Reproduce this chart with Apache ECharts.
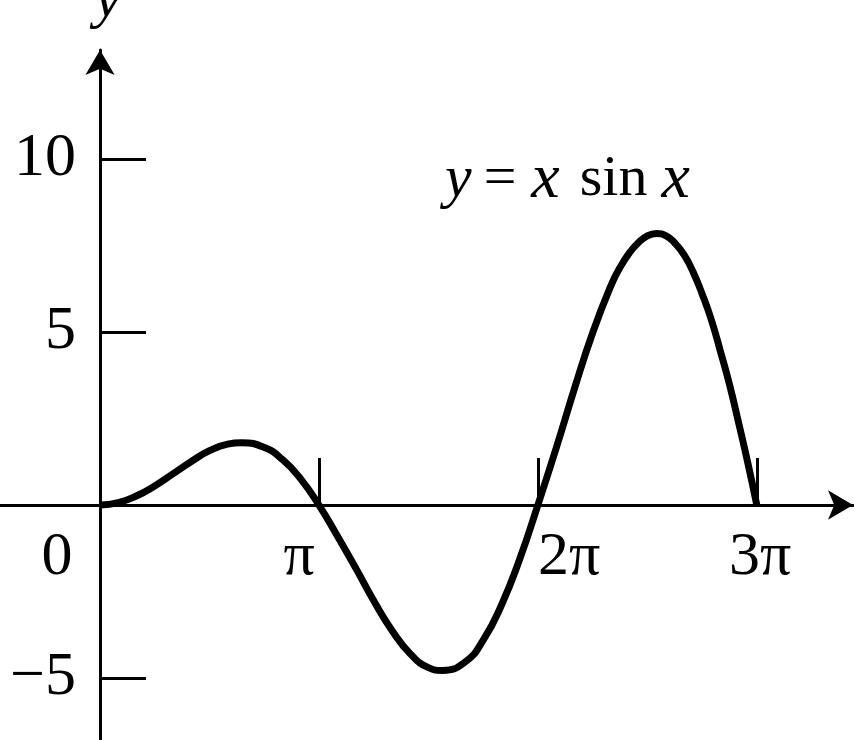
<!DOCTYPE html>
<html>
<head>
<meta charset="utf-8">
<script src="https://cdn.jsdelivr.net/npm/echarts@6/dist/echarts.min.js"></script>
<style>html,body{margin:0;padding:0;background:#fff;}#c{width:854px;height:740px;}</style>
</head>
<body>
<div id="c"></div>
<script>
// Curve samples (x in radians, y value)
const xs = [0, 0.26, 0.52, 0.79, 1.05, 1.31, 1.57, 1.83, 2.03, 2.36, 2.62, 2.88, 3.14, 3.40, 3.67, 3.93, 4.19, 4.45, 4.71, 4.91, 5.24, 5.50, 5.76, 6.02, 6.28, 6.55, 6.81, 7.07, 7.33, 7.46, 7.59, 7.72, 7.85, 7.98, 8.12, 8.24, 8.38, 8.51, 8.64, 8.77, 8.90, 9.03, 9.16, 9.29, 9.42];
const ys = [0, 0.07, 0.26, 0.56, 0.91, 1.26, 1.57, 1.76, 1.80, 1.66, 1.31, 0.75, 0, -0.88, -1.83, -2.78, -3.63, -4.30, -4.70, -4.78, -4.53, -3.89, -2.88, -1.56, 0, 1.69, 3.40, 5.00, 6.35, 6.87, 7.28, 7.58, 7.78, 7.85, 7.78, 7.58, 7.22, 6.72, 6.08, 5.34, 4.43, 3.47, 2.37, 1.23, 0];
// Axis ticks and labels
const xTickValues = [0, 3.1416, 6.2832, 9.4248];
const xTickLabels = ['0', 'π', '2π', '3π'];
const yTickValues = [-5, 5, 10];
const yTickLabels = ['−5', '5', '10'];

const serif = '"Liberation Serif", "DejaVu Serif", serif';
const chart = echarts.init(document.getElementById('c'), null, {renderer: 'canvas'});
const data = xs.map((x, i) => [x, ys[i]]);

const X_MIN = -1.435, X_MAX = 10.80, Y_MIN = -6.79, Y_MAX = 13.15;
const gridLeft = 0, gridRight = 1, gridTop = 50, gridBottom = 0;
// pixel distances used to bring the label-only axes onto the zero lines
const plotW = 854 - gridLeft - gridRight, plotH = 740 - gridTop - gridBottom;
const zeroFromLeft = (0 - X_MIN) / (X_MAX - X_MIN) * plotW;
const zeroFromBottom = (0 - Y_MIN) / (Y_MAX - Y_MIN) * plotH;

const richKeys = ['z', 'a', 'b', 'c'];
function xLabel(v) {
  let k = 0, d = 1e9;
  xTickValues.forEach((t, i) => { if (Math.abs(t - v) < d) { d = Math.abs(t - v); k = i; } });
  return '{' + richKeys[k] + '|' + xTickLabels[k] + '}';
}
function yLabel(v) {
  const k = yTickValues.indexOf(Math.round(v));
  return k >= 0 ? yTickLabels[k] : '';
}
const lab = {fontFamily: serif, fontSize: 62, color: '#000'};

chart.setOption({
  animation: false,
  backgroundColor: '#fff',
  grid: {left: gridLeft, right: gridRight, top: gridTop, bottom: gridBottom, containLabel: false, outerBoundsMode: 'none'},
  title: {
    text: '{y|y}{e|=}{x1|x}{r|sin}{x2|x}',
    left: 440, top: 143,
    textStyle: {
      rich: {
        y: {fontFamily: serif, fontStyle: 'italic', fontSize: 60, color: '#000'},
        e: {fontFamily: serif, fontSize: 58, color: '#000', padding: [0, 15, 0, 12]},
        x1: {fontFamily: serif, fontStyle: 'italic', fontSize: 64, color: '#000', padding: [0, 20, 0, 0]},
        r: {fontFamily: serif, fontSize: 58, color: '#000', padding: [0, 14, 0, 0]},
        x2: {fontFamily: serif, fontStyle: 'italic', fontSize: 64, color: '#000'}
      },
      fontFamily: serif, fontSize: 58, color: '#000', fontWeight: 'normal'
    }
  },
  xAxis: [{
    type: 'value', min: X_MIN, max: X_MAX,
    splitLine: {show: false},
    axisLine: {onZero: true, symbol: ['none', 'arrow'], symbolSize: [22, 25], lineStyle: {color: '#000', width: 3}},
    axisTick: {show: true, inside: true, length: 47, customValues: xTickValues.slice(1), lineStyle: {color: '#000', width: 3}},
    axisLabel: {show: false}
  }, {
    type: 'value', min: X_MIN, max: X_MAX, position: 'bottom', offset: -(zeroFromBottom),
    splitLine: {show: false}, axisLine: {show: false, onZero: false}, axisTick: {show: false},
    axisLabel: {
      customValues: xTickValues, margin: 22,
      fontFamily: serif, fontSize: 62, color: '#000',
      formatter: xLabel,
      rich: {
        z: Object.assign({padding: [0, 86, 0, 0]}, lab),
        a: Object.assign({padding: [0, 40, 0, 0]}, lab),
        b: Object.assign({padding: [0, 0, 0, 62]}, lab),
        c: Object.assign({padding: [0, 0, 0, 6]}, lab)
      }
    }
  }],
  yAxis: [{
    type: 'value', min: Y_MIN, max: Y_MAX,
    name: 'y', nameLocation: 'end', nameGap: 20,
    nameTextStyle: {fontFamily: serif, fontStyle: 'italic', fontSize: 60, color: '#000', padding: [0, 0, 0, 16]},
    splitLine: {show: false},
    axisLine: {onZero: true, symbol: ['none', 'arrow'], symbolSize: [22, 25], lineStyle: {color: '#000', width: 3}},
    axisTick: {show: true, inside: true, length: 46, customValues: yTickValues, lineStyle: {color: '#000', width: 3}},
    axisLabel: {show: false}
  }, {
    type: 'value', min: Y_MIN, max: Y_MAX, position: 'left', offset: -(zeroFromLeft),
    splitLine: {show: false}, axisLine: {show: false, onZero: false}, axisTick: {show: false},
    axisLabel: {
      customValues: yTickValues, margin: 24,
      fontFamily: serif, fontSize: 62, color: '#000',
      formatter: yLabel
    }
  }],
  series: [{
    type: 'line', data: data, smooth: true, showSymbol: false,
    lineStyle: {color: '#000', width: 7}, z: 3
  }]
});
</script>
</body>
</html>
